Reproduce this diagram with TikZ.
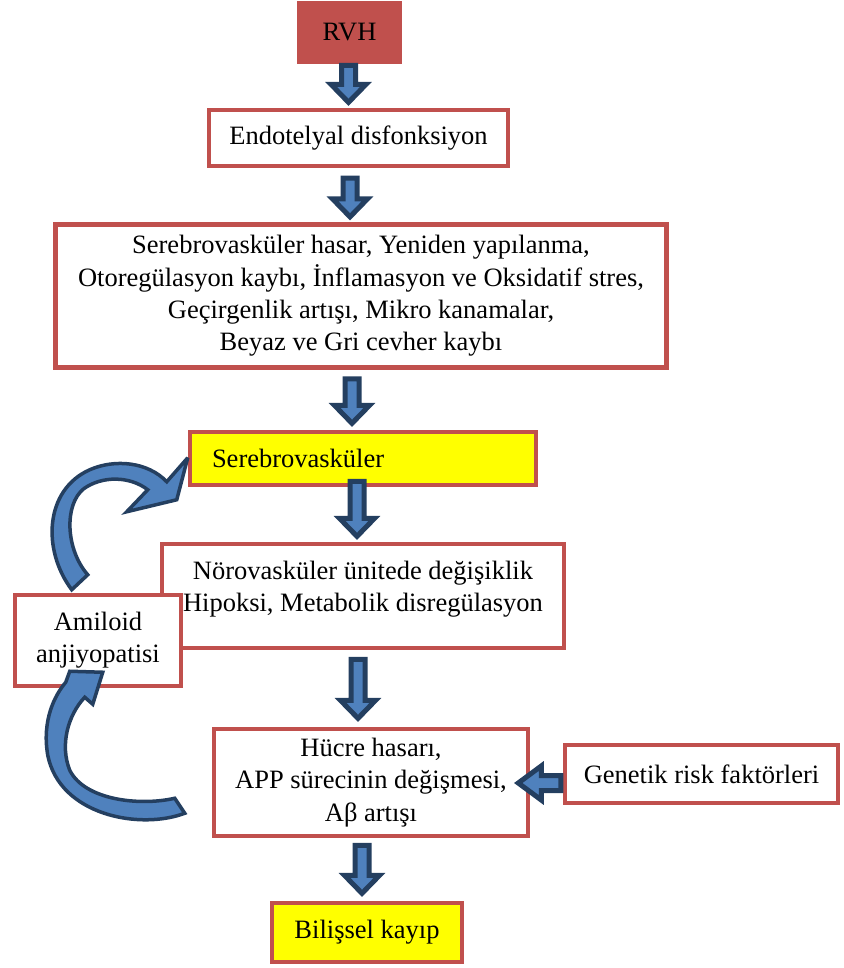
\documentclass[tikz,border=0pt]{standalone}
\usepackage{fontspec}
\setmainfont{Liberation Serif}
\usetikzlibrary{calc}

\definecolor{boxred}{HTML}{C0504D}
\definecolor{arrowfill}{HTML}{4F81BD}
\definecolor{arrowline}{HTML}{243F60}
\definecolor{hiyellow}{HTML}{FFFF00}

\tikzset{
  every node/.style={font=\fontsize{26.5}{32.3}\selectfont},
  flowbox/.style={draw=boxred, line width=4.5pt, fill=white, inner sep=0pt, align=center},
  blockarrow/.style={draw=arrowline, fill=arrowfill, line width=5pt, line join=miter, miter limit=4},
  bentarrow/.style={draw=arrowline, fill=arrowfill, line width=3.5pt, line join=miter, miter limit=4},
}

% vertical block arrow: x position, source node, target node,
% gap below the source, gap above the target
\newcommand\flowdown[5]{%
  \path[blockarrow] let \p1=(#2.south), \p2=(#3.north) in
    ({(#1-7)*1pt},{\y1-(#4pt)}) -- ({(#1+7)*1pt},{\y1-(#4pt)})
    -- ({(#1+7)*1pt},{\y2+(#5pt)+18pt}) -- ({(#1+17.5)*1pt},{\y2+(#5pt)+18pt})
    -- ({#1*1pt},{\y2+(#5pt)})
    -- ({(#1-17.5)*1pt},{\y2+(#5pt)+18pt}) -- ({(#1-7)*1pt},{\y2+(#5pt)+18pt})
    -- cycle;}

% horizontal block arrow pointing left: source node, target node,
% downward offset of the axis, overlap of the tip into the target
\newcommand\flowleft[4]{%
  \path[blockarrow] let \p1=(#1.west), \p2=(#2.east) in
    ({\x1-2pt},{\y1-(#3pt)-7.5pt}) -- ({\x1-2pt},{\y1-(#3pt)+7.5pt})
    -- ({\x2-(#4pt)+23pt},{\y1-(#3pt)+7.5pt}) -- ({\x2-(#4pt)+23pt},{\y1-(#3pt)+17pt})
    -- ({\x2-(#4pt)},{\y1-(#3pt)})
    -- ({\x2-(#4pt)+23pt},{\y1-(#3pt)-17pt}) -- ({\x2-(#4pt)+23pt},{\y1-(#3pt)-7.5pt})
    -- cycle;}

\begin{document}
\begin{tikzpicture}[x=1pt, y=-1pt]
\useasboundingbox (0,0) rectangle (843,968);

% boxes
\node[flowbox, fill=boxred, minimum width=101pt, minimum height=59pt] (rvh) at (349.5,32.5) {RVH};
\node[flowbox, minimum width=299pt, minimum height=56pt] (endo) at (358.5,138) {Endotelyal disfonksiyon};
\node[flowbox, minimum width=611pt, minimum height=143pt] (hasar) at (361,296)
  {Serebrovasküler hasar, Yeniden yapılanma,\\
   Otoregülasyon kaybı, İnflamasyon ve Oksidatif stres,\\
   Geçirgenlik artışı, Mikro kanamalar,\\
   Beyaz ve Gri cevher kaybı};
\node[flowbox, fill=hiyellow, text width=302pt, inner xsep=22pt, align=left,
      minimum height=53pt] (sereb) at (363,458.5) {Serebrovasküler};
\node[flowbox, minimum width=402pt, minimum height=104pt] (noro) at (363,596)
  {Nörovasküler ünitede değişiklik\\
   Hipoksi, Metabolik disregülasyon\\[-13pt]\mbox{}};
\node[flowbox, minimum width=166pt, minimum height=91pt] (amiloid) at (98,640.5)
  {Amiloid\\anjiyopatisi};
\node[flowbox, minimum width=314pt, minimum height=107pt] (hucre) at (371,782.5)
  {Hücre hasarı,\\APP sürecinin değişmesi,\\Aβ artışı};
\node[flowbox, minimum width=273pt, minimum height=58pt] (genetik) at (701.5,774)
  {Genetik risk faktörleri};
\node[flowbox, fill=hiyellow, minimum width=190pt, minimum height=59pt] (bilis) at (367,932.5)
  {Bilişsel kayıp};

% main chain
\flowdown{348.5}{rvh}{endo}{1.25}{5.4}
\flowdown{350}{endo}{hasar}{10}{5.4}
\flowdown{352}{hasar}{sereb}{9}{6.4}
\flowdown{357}{sereb}{noro}{-6}{5.4}
\flowdown{358}{noro}{hucre}{9}{8.4}
\flowdown{362}{hucre}{bilis}{7}{7.4}

% genetic risk factors feed into cell damage
\flowleft{genetik}{hucre}{9}{12}

% amyloid angiopathy loops back to the cerebrovascular box
\begin{scope}[shift={(amiloid.north west)}]
  \path[bentarrow]
    (59,-3) .. controls (29,-43) and (32,-103) .. (77,-123)
    .. controls (102,-134) and (135,-131) .. (154,-111)
    -- (175,-135) -- (164,-93) -- (114,-81) -- (135,-103)
    .. controls (117,-117) and (89,-117) .. (71,-104)
    .. controls (51,-88) and (53,-43) .. (75,-18) -- cycle;
\end{scope}

% cell damage feeds amyloid angiopathy
\begin{scope}[shift={(amiloid.south west)}]
  \path[bentarrow]
    (172,125) .. controls (127,142) and (47,127) .. (35,67)
    .. controls (29,32) and (42,7) .. (53,-6)
    -- (57,-17) -- (90,-16) -- (80,16) -- (72,9)
    .. controls (55,27) and (47,57) .. (57,82)
    .. controls (72,112) and (127,118) .. (162,110) -- cycle;
\end{scope}
\end{tikzpicture}
\end{document}
